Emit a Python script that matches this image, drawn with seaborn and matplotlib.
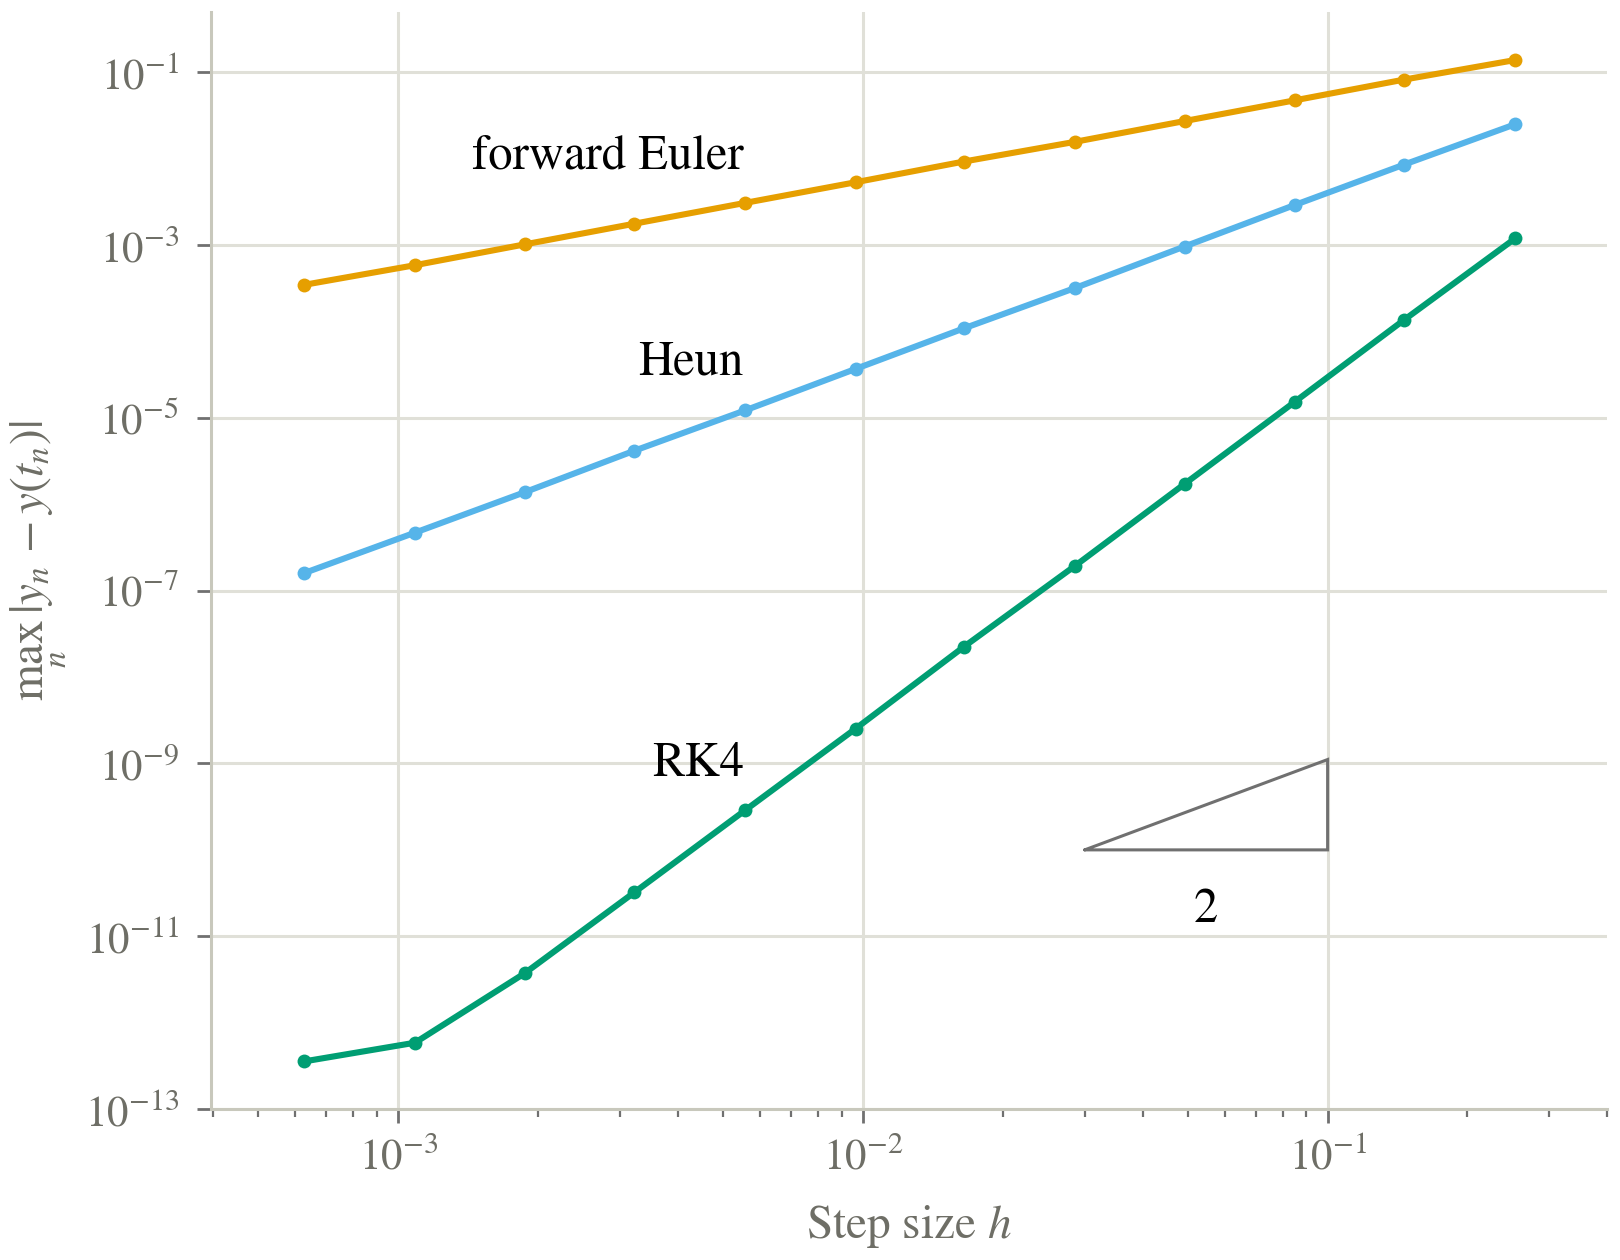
import pandas as pd
import matplotlib.pyplot as plt
import seaborn as sns

# ---------------------------------------------------------
# datos
# ---------------------------------------------------------
h = [6.27e-4, 1.086e-3, 1.87e-3, 3.22e-3, 5.57e-3, 9.65e-3,
     1.65e-2, 2.86e-2, 4.92e-2, 8.49e-2, 0.146, 0.2535]

err_euler = [3.47e-4, 5.86e-4, 1.02e-3, 1.77e-3, 3.08e-3, 5.35e-3,
             9.29e-3, 1.57e-2, 2.73e-2, 4.74e-2, 8.24e-2, 0.139]
err_heun = [1.60e-7, 4.70e-7, 1.38e-6, 4.17e-6, 1.22e-5, 3.70e-5,
            1.09e-4, 3.19e-4, 9.64e-4, 2.91e-3, 8.55e-3, 2.51e-2]
err_rk4 = [3.56e-13, 5.86e-13, 3.73e-12, 3.22e-11, 2.86e-10, 2.54e-9,
           2.25e-8, 1.94e-7, 1.72e-6, 1.53e-5, 1.36e-4, 1.20e-3]

metodos = ['forward Euler', 'Heun', 'RK4']
colores = {'forward Euler': '#E69F00', 'Heun': '#56B4E9', 'RK4': '#009E73'}
# posicion de las etiquetas (x, y en datos)
etiquetas = {'forward Euler': (5.54e-3, 1.04e-2),
             'Heun': (5.54e-3, 4.3e-5),
             'RK4': (5.54e-3, 9.7e-10)}

# triangulo de pendiente
tri_x = [0.03, 0.1]
tri_y0 = 1e-10
tri_pendiente = 2

df = pd.DataFrame({
    'h': h * 3,
    'err': err_euler + err_heun + err_rk4,
    'metodo': [m for m in metodos for _ in h],
})

# ---------------------------------------------------------
# estilo
# ---------------------------------------------------------
sns.set_theme(style='white')
plt.rcParams['font.family'] = ['STIXGeneral', 'DejaVu Serif']
plt.rcParams['mathtext.fontset'] = 'stix'

gris_txt = '#6e6e66'
gris_spine = '#c8c8bc'
gris_grid = '#e0e0d8'
gris_tick = '#707070'

fig = plt.figure(figsize=(8.1, 6.3), dpi=200)
ax = fig.add_axes([0.1302, 0.1198, 0.862, 0.8707])
ax.set_xscale('log')
ax.set_yscale('log')

sns.lineplot(data=df, x='h', y='err', hue='metodo', palette=colores,
             estimator=None, marker='o', markersize=5, markeredgewidth=0,
             linewidth=2.2, legend=False, ax=ax, zorder=3)

ax.set_xlim(3.95e-4, 0.4)
ax.set_ylim(1e-13, 0.5)

ax.set_yticks([10.0 ** e for e in range(-13, 0, 2)])
ax.yaxis.set_minor_locator(plt.NullLocator())
ax.grid(True, which='major', color=gris_grid, linewidth=1.1, zorder=0)
ax.set_axisbelow(True)

for lado in ['top', 'right']:
    ax.spines[lado].set_visible(False)
for lado in ['left', 'bottom']:
    ax.spines[lado].set_color(gris_spine)
    ax.spines[lado].set_linewidth(1.1)

ax.tick_params(axis='both', which='both', bottom=True, left=True)
ax.tick_params(axis='both', which='major', direction='out', length=5,
               width=1.0, color=gris_tick, labelcolor=gris_txt, labelsize=15.5)
ax.tick_params(axis='y', which='major', pad=6.5)
ax.tick_params(axis='x', which='major', pad=5)
ax.tick_params(axis='x', which='minor', direction='out', length=3,
               width=0.8, color=gris_tick)

ax.set_xlabel('Step size $h$', fontsize=17, color=gris_txt, labelpad=9)
ax.set_ylabel(r'$\max_n\,|y_n - y(t_n)|$', fontsize=17, color=gris_txt,
              labelpad=6)

for m in metodos:
    x, y = etiquetas[m]
    ax.text(x, y, m, fontsize=17.5, color='black', ha='right', va='center')

# triangulo de orden 2
tri_y1 = tri_y0 * (tri_x[1] / tri_x[0]) ** tri_pendiente
ax.plot([tri_x[0], tri_x[1], tri_x[1], tri_x[0]],
        [tri_y0, tri_y0, tri_y1, tri_y0],
        color=gris_tick, linewidth=1.1, solid_joinstyle='miter', zorder=2)
ax.text((tri_x[0] * tri_x[1]) ** 0.5, 2.0e-11, str(tri_pendiente),
        fontsize=17.5, color='black', ha='center', va='center')

fig.savefig('out.png', dpi=200)
plt.close(fig)
